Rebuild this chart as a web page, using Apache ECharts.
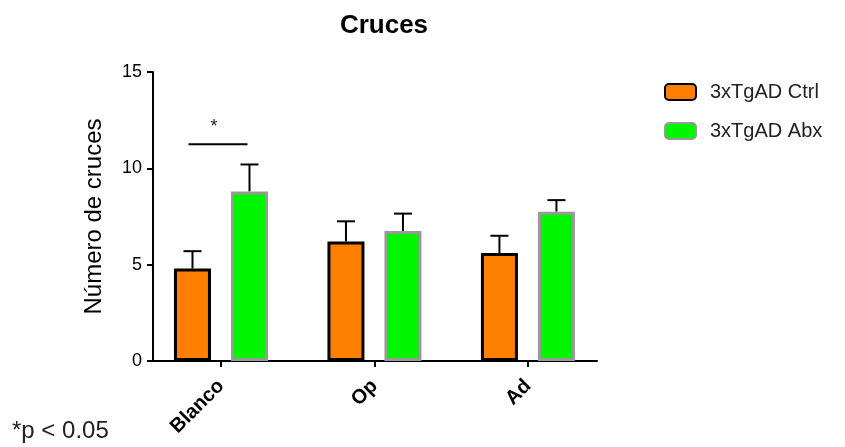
<!DOCTYPE html>
<html>
<head>
<meta charset="utf-8">
<script src="https://cdn.jsdelivr.net/npm/echarts@6/dist/echarts.min.js"></script>
<style>
  html, body { margin: 0; padding: 0; background: #fff; }
  #chart { width: 845px; height: 447px; }
</style>
</head>
<body>
<div id="chart"></div>
<script>
// Groups and the two treatment series (mean ± SEM)
const categories = ['Blanco', 'Op', 'Ad'];
const ctrlMean = [4.8, 6.2, 5.6];
const ctrlSem = [0.9, 1.05, 0.9];
const abxMean = [8.8, 6.75, 7.75];
const abxSem = [1.4, 0.9, 0.6];
const yTicks = [0, 5, 10, 15];
// Significance bracket: group index, height, label
const sigGroup = [0];
const sigHeight = [11.25];
const sigLabel = ['*'];

const FONT = '"Liberation Sans", Arial, sans-serif';
const BAR_W = 37;
const HALF_PITCH = 28.5; // distance from group centre to each bar centre

const chart = echarts.init(document.getElementById('chart'));

function errorSeries(name, means, sems, dir) {
  return {
    type: 'custom',
    name: name + ' err',
    z: 1,
    data: means.map((m, i) => [i, m, m + sems[i]]),
    renderItem: function (params, api) {
      const base = api.coord([api.value(0), api.value(1)]);
      const top = api.coord([api.value(0), api.value(2)]);
      const x = base[0] + dir * HALF_PITCH;
      return {
        type: 'group',
        children: [
          { type: 'line', shape: { x1: x, y1: base[1], x2: x, y2: top[1] },
            style: { stroke: '#000', lineWidth: 2 } },
          { type: 'line', shape: { x1: x - 9, y1: top[1], x2: x + 9, y2: top[1] },
            style: { stroke: '#000', lineWidth: 2 } }
        ]
      };
    },
    silent: true,
    tooltip: { show: false }
  };
}

const option = {
  animation: false,
  backgroundColor: '#fff',
  title: {
    text: 'Cruces',
    left: 379,
    top: 8,
    textAlign: 'center',
    textStyle: { fontFamily: FONT, fontSize: 26, fontWeight: 'bold', color: '#000' }
  },
  legend: {
    orient: 'vertical',
    left: 659,
    top: 77,
    itemWidth: 31,
    itemHeight: 16,
    itemGap: 19,
    data: ['3xTgAD Ctrl', '3xTgAD Abx'],
    textStyle: { fontFamily: FONT, fontSize: 20, color: '#222', padding: [0, 0, 0, 9] }
  },
  grid: { left: 153, right: 248, top: 72, bottom: 86 },
  xAxis: {
    type: 'value',
    min: -0.443,
    max: 2.45,
    axisLine: { show: true, onZero: false, lineStyle: { color: '#000', width: 2 } },
    splitLine: { show: false },
    axisTick: { show: true, customValues: [0, 1, 2], length: 6, inside: false,
      lineStyle: { color: '#000', width: 2 } },
    axisLabel: {
      customValues: [0, 1, 2],
      formatter: v => categories[Math.round(v)],
      rotate: 45,
      margin: 22,
      padding: [0, 0, 0, 0],
      fontFamily: FONT, fontSize: 20, fontWeight: 'bold', color: '#000'
    }
  },
  yAxis: {
    type: 'value',
    min: 0,
    max: 15,
    interval: 5,
    name: 'Número de cruces',
    nameLocation: 'middle',
    nameGap: 47,
    nameTextStyle: { fontFamily: FONT, fontSize: 24, color: '#000' },
    axisLine: { show: true, onZero: false, lineStyle: { color: '#000', width: 2 } },
    axisTick: { show: true, length: 6, lineStyle: { color: '#000', width: 2 } },
    splitLine: { show: false },
    axisLabel: {
      margin: 11,
      formatter: v => (yTicks.includes(v) ? String(v) : ''),
      fontFamily: FONT, fontSize: 18, color: '#000'
    }
  },
  graphic: [
    { type: 'text', left: 12, top: 419,
      style: { text: '*p < 0.05', fontFamily: FONT, fontSize: 24, fill: '#222' } }
  ],
  series: [
    {
      type: 'bar',
      name: '3xTgAD Ctrl',
      data: ctrlMean.map((m, i) => [i, m]),
      barWidth: BAR_W,
      barGap: ((2 * HALF_PITCH - BAR_W) / BAR_W * 100).toFixed(1) + '%',
      itemStyle: { color: '#FF7F00', borderColor: '#000', borderWidth: 3 },
      z: 2
    },
    {
      type: 'bar',
      name: '3xTgAD Abx',
      data: abxMean.map((m, i) => [i, m]),
      barWidth: BAR_W,
      itemStyle: { color: '#00F500', borderColor: '#999', borderWidth: 3 },
      z: 2
    },
    errorSeries('3xTgAD Ctrl', ctrlMean, ctrlSem, -1),
    errorSeries('3xTgAD Abx', abxMean, abxSem, 1),
    {
      type: 'custom',
      name: 'sig',
      silent: true,
      data: sigGroup.map((g, i) => [g, sigHeight[i], sigLabel[i]]),
      renderItem: function (params, api) {
        const p = api.coord([api.value(0), api.value(1)]);
        const label = sigLabel[params.dataIndex];
        return {
          type: 'group',
          children: [
            { type: 'line', shape: { x1: p[0] - HALF_PITCH - 4, y1: p[1], x2: p[0] + HALF_PITCH - 2, y2: p[1] },
              style: { stroke: '#000', lineWidth: 2 } },
            { type: 'text', x: p[0] - 7, y: p[1] - 17,
              style: { text: label, fontFamily: FONT, fontSize: 18, fill: '#222',
                align: 'center', verticalAlign: 'middle' } }
          ]
        };
      }
    }
  ]
};

chart.setOption(option);
</script>
</body>
</html>
